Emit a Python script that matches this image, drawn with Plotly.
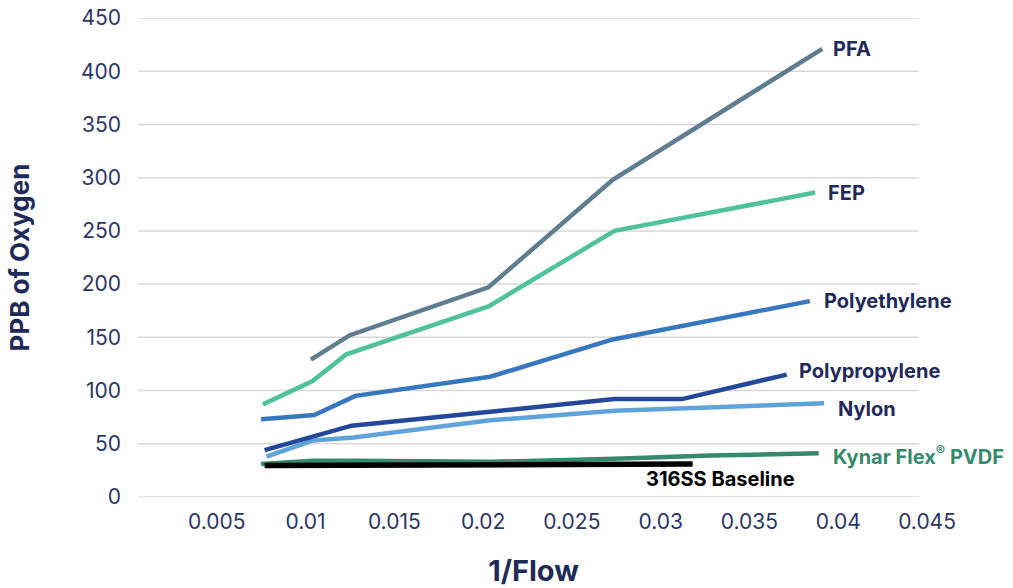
import plotly.graph_objects as go

# Data
pfa_x = [0.0103, 0.0125, 0.0203, 0.0273, 0.0391]
pfa_y = [129, 152, 197, 298, 421]

fep_x = [0.0076, 0.0104, 0.0123, 0.0203, 0.0274, 0.0387]
fep_y = [87, 109, 134, 179, 250, 286]

pe_x = [0.0075, 0.0105, 0.0128, 0.0204, 0.0273, 0.0384]
pe_y = [73, 77, 95, 113, 148, 184]

pp_x = [0.0077, 0.0126, 0.0204, 0.0274, 0.0312, 0.0371]
pp_y = [44, 67, 80, 92, 92, 115]

nylon_x = [0.0078, 0.0104, 0.0127, 0.0204, 0.0274, 0.0392]
nylon_y = [38, 53, 56, 72, 81, 88]

kynar_x = [0.0075, 0.0104, 0.0127, 0.0204, 0.0274, 0.0328, 0.0389]
kynar_y = [31, 34, 34, 33, 36, 39, 41]

base_x = [0.0077, 0.0318]
base_y = [29.5, 31]

y_ticks = [0, 50, 100, 150, 200, 250, 300, 350, 400, 450]
x_ticks = [0.005, 0.01, 0.015, 0.02, 0.025, 0.03, 0.035, 0.04, 0.045]
x_tick_text = ["0.005", "0.01", "0.015", "0.02", "0.025", "0.03", "0.035", "0.04", "0.045"]

series = [
    ("PFA", pfa_x, pfa_y, "#5E7E8F", 4.5),
    ("FEP", fep_x, fep_y, "#4FC29C", 4.5),
    ("Polyethylene", pe_x, pe_y, "#3677BF", 4.5),
    ("Nylon", nylon_x, nylon_y, "#5FA3DA", 4.5),
    ("Polypropylene", pp_x, pp_y, "#25479A", 4.5),
    ("Kynar Flex® PVDF", kynar_x, kynar_y, "#368A6C", 4.5),
    ("316SS Baseline", base_x, base_y, "#000000", 5.5),
]

label_color = "#1F2A5A"
tick_color = "#2B3668"
# (text, anchor x, anchor y, colour, x pixel offset, y pixel offset downward)
labels = [
    ("PFA", pfa_x[-1], pfa_y[-1], label_color, 9, 0),
    ("FEP", fep_x[-1], fep_y[-1], label_color, 11, 0),
    ("Polyethylene", pe_x[-1], pe_y[-1], label_color, 12, 0),
    ("Polypropylene", pp_x[-1], pp_y[-1], label_color, 10, -4),
    ("Nylon", nylon_x[-1], nylon_y[-1], label_color, 12, 6),
    ("Kynar Flex<sup>®</sup> PVDF", kynar_x[-1], kynar_y[-1], "#368A6C", 12, 2),
    ("316SS Baseline", base_x[-1], base_y[-1], "#000000", -49, 15),
]

X_RANGE = [0.000568, 0.04511]
GRID_END = 0.04455

fig = go.Figure()
for name, xs, ys, color, w in series:
    fig.add_trace(go.Scatter(x=xs, y=ys, mode="lines", name=name,
                             line=dict(color=color, width=w),
                             hoverinfo="x+y+name"))

for yv in y_ticks:
    fig.add_shape(type="line", xref="x", yref="y", x0=X_RANGE[0], x1=GRID_END,
                  y0=yv, y1=yv, line=dict(color="#D9D9D9", width=1.5), layer="below")

for text, xv, yv, color, dx, dy in labels:
    fig.add_annotation(x=xv, y=yv, text=f"<b>{text}</b>", showarrow=False,
                       xanchor="left", yanchor="middle", xshift=dx, yshift=-dy,
                       font=dict(family="Inter", size=20, color=color))

fig.update_layout(
    width=1013, height=588,
    margin=dict(l=138, r=84, t=18, b=91),
    paper_bgcolor="white", plot_bgcolor="white",
    showlegend=False,
    font=dict(family="Inter", color=label_color),
    xaxis=dict(
        range=X_RANGE, automargin=False,
        tickvals=x_ticks, ticktext=x_tick_text,
        showgrid=False, zeroline=False, showline=False,
        ticks="", ticklabelstandoff=10,
        tickfont=dict(family="Inter", size=21, color=tick_color),
        title=dict(text="<b>1/Flow</b>", font=dict(family="Inter", size=29, color=label_color),
                   standoff=35),
    ),
    yaxis=dict(
        range=[0, 450], automargin=False,
        tickvals=y_ticks,
        showgrid=False, zeroline=False, showline=False,
        ticks="", ticklabelstandoff=16,
        tickfont=dict(family="Inter", size=21, color=tick_color),
        title=dict(text="<b>PPB of Oxygen</b>", font=dict(family="Inter", size=26, color=label_color),
                   standoff=43),
    ),
)

# remove the default page margin so the figure fills the window exactly
fig.write_html("out.html", config={"displayModeBar": False},
               post_script="document.body.style.margin='0';")
